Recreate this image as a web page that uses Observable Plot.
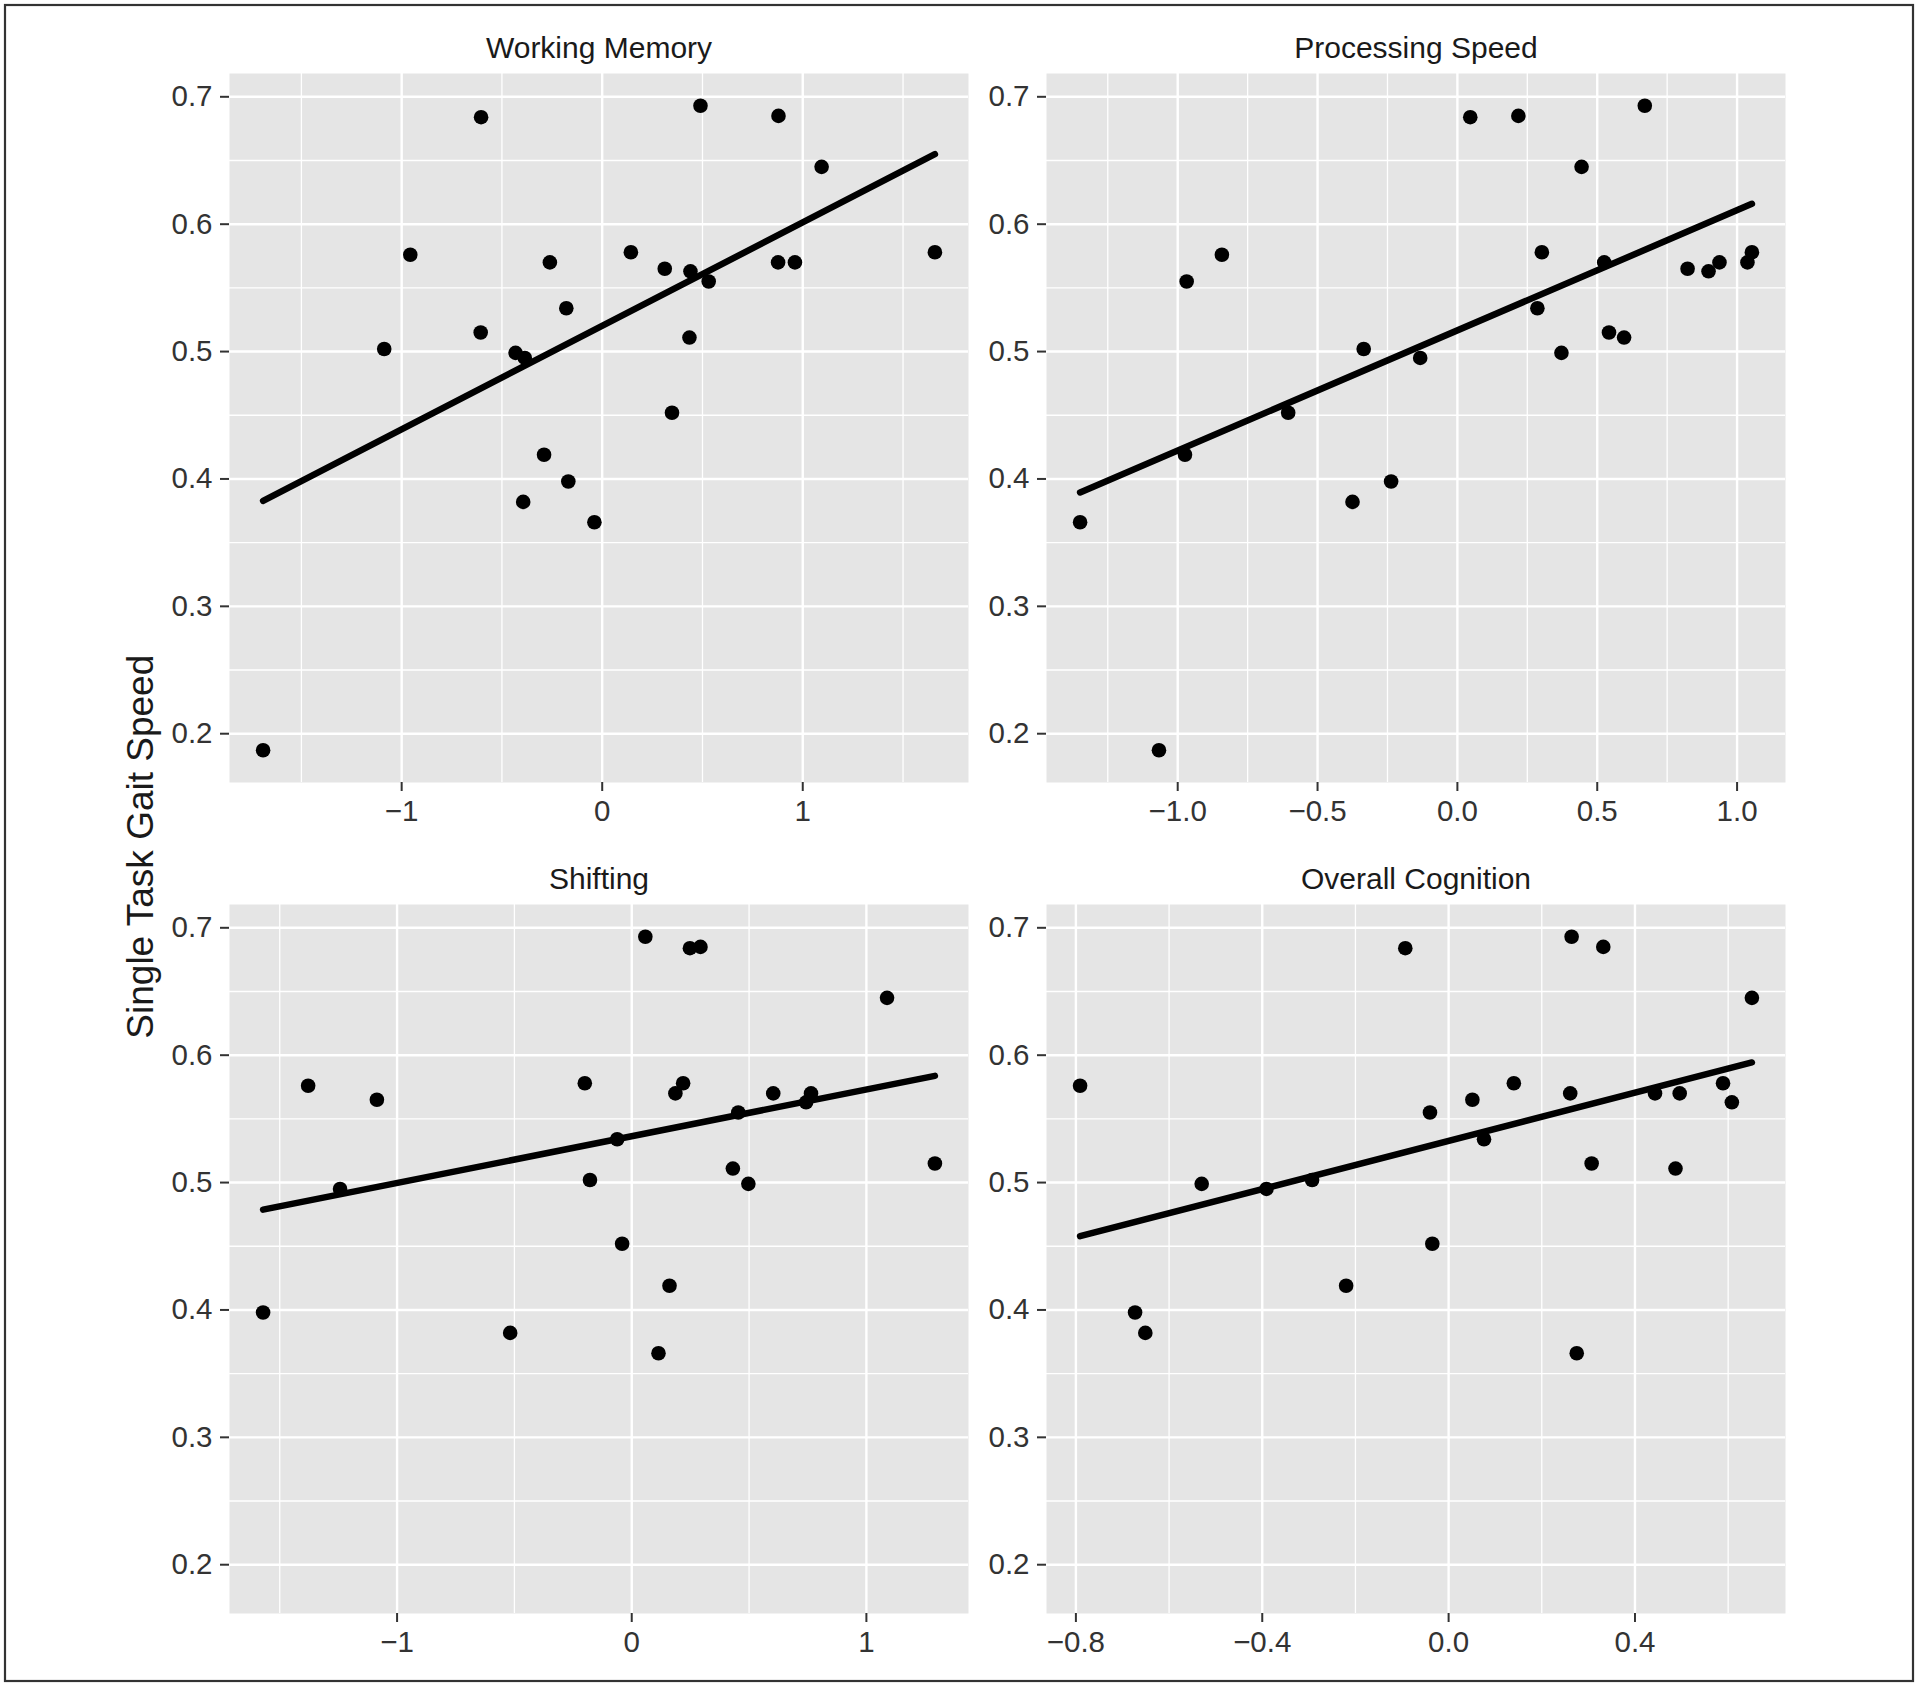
<!DOCTYPE html>
<html><head><meta charset="utf-8">
<script src="https://cdn.jsdelivr.net/npm/d3@7"></script>
<script src="https://cdn.jsdelivr.net/npm/@observablehq/plot@0.6"></script>
<style>
html,body{margin:0;padding:0;background:#fff;}
#fig{position:relative;width:1920px;height:1687px;overflow:hidden;background:#fff;}
#fig .panel{position:absolute;}
#overlay{position:absolute;left:0;top:0;pointer-events:none;}
</style></head><body><div id="fig"></div>
<script>
// ---- data ----
const panelTitles = ["Working Memory", "Processing Speed", "Shifting", "Overall Cognition"];
const yAxisTitle = "Single Task Gait Speed";
const yTicks = [0.2, 0.3, 0.4, 0.5, 0.6, 0.7];
const yMinor = [0.25, 0.35, 0.45, 0.55, 0.65];

const wmX = [-0.604, 0.490, 0.879, 1.094, -0.957, 0.143, 1.659, -0.261, 0.877, 0.961, 0.312, 0.440, 0.531, -0.179, -0.606, 0.435, -1.087, -0.432, -0.386, 0.348, -0.290, -0.169, -0.394, -0.039, -1.691];
const wmY = [0.684, 0.693, 0.685, 0.645, 0.576, 0.578, 0.578, 0.570, 0.570, 0.570, 0.565, 0.563, 0.555, 0.534, 0.515, 0.511, 0.502, 0.499, 0.495, 0.452, 0.419, 0.398, 0.382, 0.366, 0.187];
const wmTicks = [-1, 0, 1];
const wmMinor = [-1.5, -0.5, 0.5, 1.5];

const psX = [0.046, 0.218, 0.670, 0.444, -0.842, -0.968, 0.302, 0.525, 0.823, 0.898, 0.937, 1.037, 1.053, 0.286, 0.542, 0.596, -0.335, 0.372, -0.133, -0.605, -0.974, -0.237, -0.375, -1.349, -1.067];
const psY = [0.684, 0.685, 0.693, 0.645, 0.576, 0.555, 0.578, 0.570, 0.565, 0.563, 0.570, 0.570, 0.578, 0.534, 0.515, 0.511, 0.502, 0.499, 0.495, 0.452, 0.419, 0.398, 0.382, 0.366, 0.187];
const psTicks = [-1.0, -0.5, 0.0, 0.5, 1.0];
const psMinor = [-1.25, -0.75, -0.25, 0.25, 0.75, 1.25];

const shX = [0.058, 0.248, 0.293, 1.088, -1.379, -1.086, -0.200, 0.219, 0.186, 0.603, 0.764, 0.743, 0.454, -0.062, 1.292, 0.431, -0.178, 0.497, -1.243, -0.041, 0.161, -1.571, -0.518, 0.114];
const shY = [0.693, 0.684, 0.685, 0.645, 0.576, 0.565, 0.578, 0.578, 0.570, 0.570, 0.570, 0.563, 0.555, 0.534, 0.515, 0.511, 0.502, 0.499, 0.495, 0.452, 0.419, 0.398, 0.382, 0.366];
const shTicks = [-1, 0, 1];
const shMinor = [-1.5, -0.5, 0.5, 1.5];

const ocX = [-0.093, 0.264, 0.332, 0.651, -0.791, 0.140, 0.261, 0.443, 0.496, 0.589, 0.608, 0.051, -0.040, 0.076, 0.307, 0.487, -0.293, -0.530, -0.391, -0.035, -0.220, -0.673, -0.651, 0.275];
const ocY = [0.684, 0.693, 0.685, 0.645, 0.576, 0.578, 0.570, 0.570, 0.570, 0.578, 0.563, 0.565, 0.555, 0.534, 0.515, 0.511, 0.502, 0.499, 0.495, 0.452, 0.419, 0.398, 0.382, 0.366];
const ocTicks = [-0.8, -0.4, 0.0, 0.4];
const ocMinor = [-0.6, -0.2, 0.2, 0.6];

// ---- layout ----
const FONT = '"Liberation Sans", Arial, Helvetica, sans-serif';
const PW = 739, PH = 709;
const ML = 100, MR = 20, MT = 50, MB = 50;
const PANEL_BG = "#E5E5E5";

const panels = [
  {title: panelTitles[0], x: wmX, y: wmY, ticks: wmTicks, minor: wmMinor, digits: 0, left: 229, top: 73},
  {title: panelTitles[1], x: psX, y: psY, ticks: psTicks, minor: psMinor, digits: 1, left: 1046, top: 73},
  {title: panelTitles[2], x: shX, y: shY, ticks: shTicks, minor: shMinor, digits: 0, left: 229, top: 904},
  {title: panelTitles[3], x: ocX, y: ocY, ticks: ocTicks, minor: ocMinor, digits: 1, left: 1046, top: 904}
];

const allY = [].concat(wmY, psY, shY, ocY);
const ye = d3.extent(allY);
const yr = ye[1] - ye[0];
const yDom = [ye[0] - 0.05 * yr, ye[1] + 0.05 * yr];

function makePanel(p) {
  const xe = d3.extent(p.x);
  const xr = xe[1] - xe[0];
  const xDom = [xe[0] - 0.05 * xr, xe[1] + 0.05 * xr];
  const inX = v => v >= xDom[0] && v <= xDom[1];
  const data = p.x.map((v, i) => ({x: v, y: p.y[i]}));
  const fmt = d => (d < 0 ? "\u2212" : "") + Math.abs(d).toFixed(p.digits);
  const grid = {stroke: "white", strokeOpacity: 1};
  return Plot.plot({
    width: PW + ML + MR,
    height: PH + MT + MB,
    marginLeft: ML, marginRight: MR, marginTop: MT, marginBottom: MB,
    x: {domain: xDom},
    y: {domain: yDom},
    style: {background: "transparent", fontFamily: FONT, fontSize: "29.5px", color: "#333", overflow: "visible"},
    marks: [
      Plot.frame({fill: PANEL_BG, stroke: "none"}),
      Plot.gridX(p.minor.filter(inX), {...grid, strokeWidth: 1.3}),
      Plot.gridY(yMinor, {...grid, strokeWidth: 1.3}),
      Plot.gridX(p.ticks, {...grid, strokeWidth: 2.4}),
      Plot.gridY(yTicks, {...grid, strokeWidth: 2.4}),
      Plot.axisX(p.ticks, {tickSize: 9, tickPadding: 9, tickFormat: fmt, label: null, fontSize: 29.5, strokeWidth: 2}),
      Plot.axisY(yTicks, {tickSize: 9, tickPadding: 8, tickFormat: d => d.toFixed(1), label: null, fontSize: 29.5, strokeWidth: 2}),
      Plot.dot(data, {x: "x", y: "y", r: 7.3, fill: "black", stroke: "none"}),
      Plot.linearRegressionY(data, {x: "x", y: "y", ci: 0, stroke: "black", strokeWidth: 6.5}),
      Plot.text([p.title], {text: d => d, frameAnchor: "top", lineAnchor: "bottom", dy: -16, fill: "#1a1a1a", fontSize: 30})
    ]
  });
}

const fig = document.getElementById("fig");
for (const p of panels) {
  const svg = makePanel(p);
  svg.classList.add("panel");
  svg.style.left = (p.left - ML) + "px";
  svg.style.top = (p.top - MT) + "px";
  fig.appendChild(svg);
}

const ov = d3.create("svg").attr("id", "overlay").attr("width", 1920).attr("height", 1687);
ov.append("rect").attr("x", 5).attr("y", 5).attr("width", 1908).attr("height", 1676)
  .attr("fill", "none").attr("stroke", "#333").attr("stroke-width", 2.2);
ov.append("text").attr("transform", "translate(153,846.7) rotate(-90)")
  .attr("text-anchor", "middle").attr("font-family", FONT).attr("font-size", 37)
  .attr("fill", "#1a1a1a").text(yAxisTitle);
fig.appendChild(ov.node());
</script></body></html>
